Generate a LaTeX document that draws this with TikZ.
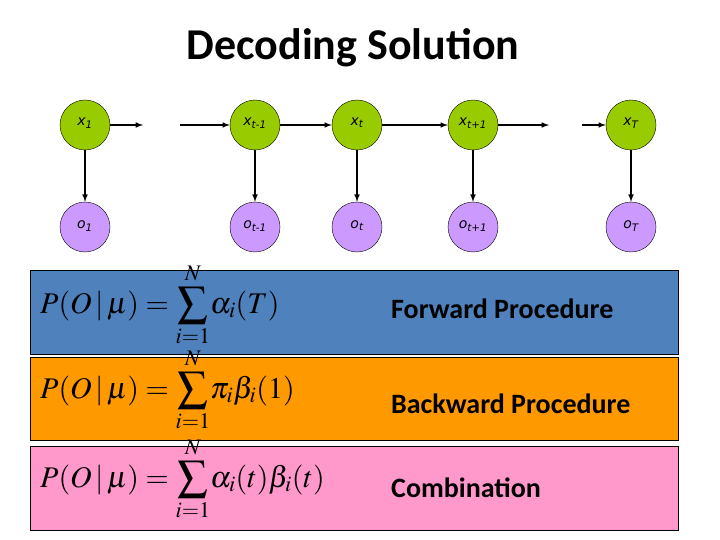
\documentclass[tikz,border=0pt]{standalone}
\usepackage{mathptmx}
\usepackage{fontspec}
\setmainfont{Carlito}
\newfontfamily\nodefont{DejaVu Sans}
\usetikzlibrary{arrows}
\definecolor{hidden fill}{HTML}{99CC00}
\definecolor{obs fill}{HTML}{CC99FF}
\definecolor{fwd}{HTML}{4F81BD}
\definecolor{bwd}{HTML}{FF9900}
\definecolor{comb}{HTML}{FF99CC}
\tikzset{
  hidden/.style={draw, circle, fill=hidden fill, minimum size=50pt, inner sep=0pt, font=\nodefont\itshape\fontsize{14}{16}\selectfont},
  obs/.style={draw, circle, fill=obs fill, minimum size=50pt, inner sep=0pt, font=\nodefont\itshape\fontsize{14}{16}\selectfont},
  edge/.style={-latex, line width=1.5pt},
  band/.style={draw, thin},
  formula/.style={anchor=base west, inner sep=0pt, font=\fontsize{30}{36}\selectfont},
  procname/.style={anchor=base west, inner sep=0pt, font=\bfseries\fontsize{28}{33}\selectfont}
}

\begin{document}
\begin{tikzpicture}[x=1pt, y=-1pt]
    \useasboundingbox (0,0) rectangle (720,540);
    \node[anchor=base, inner sep=0pt, font=\bfseries\fontsize{44}{52}\selectfont] (title) at (353,60) {Decoding Solution};

    % hidden chain
    \node[hidden] (x1) at (85,125) {\raisebox{7pt}{x\textsubscript{1}}};
    \node[hidden] (xtm) at (255,125) {\raisebox{7pt}{x\textsubscript{t-1}}};
    \node[hidden] (xt) at (357,125) {\raisebox{7pt}{x\textsubscript{t}}};
    \node[hidden] (xtp) at (473,125) {\raisebox{7pt}{x\textsubscript{t+1}}};
    \node[hidden] (xT) at (631,125) {\raisebox{7pt}{x\textsubscript{T}}};
    \coordinate (gapa) at (143,125);
    \coordinate (gapb) at (180,125);
    \coordinate (gapc) at (549,125);
    \coordinate (gapd) at (582,125);

    % observations
    \node[obs] (o1) at (85,227) {\raisebox{5pt}{o\textsubscript{1}}};
    \node[obs] (otm) at (255,227) {\raisebox{5pt}{o\textsubscript{t-1}}};
    \node[obs] (ot) at (357,227) {\raisebox{5pt}{o\textsubscript{t}}};
    \node[obs] (otp) at (473,227) {\raisebox{5pt}{o\textsubscript{t+1}}};
    \node[obs] (oT) at (631,227) {\raisebox{5pt}{o\textsubscript{T}}};

    \draw[edge] (x1) -- (gapa);
    \draw[edge] (gapb) -- (xtm);
    \draw[edge] (xtm) -- (xt);
    \draw[edge] (xt) -- (xtp);
    \draw[edge] (xtp) -- (gapc);
    \draw[edge] (gapd) -- (xT);
    \draw[edge] (x1) -- (o1);
    \draw[edge] (xtm) -- (otm);
    \draw[edge] (xt) -- (ot);
    \draw[edge] (xtp) -- (otp);
    \draw[edge] (xT) -- (oT);

    % the three procedures
    \draw[band, fill=fwd] (30,270) rectangle (678,354);
    \draw[band, fill=bwd] (30,357) rectangle (678,440);
    \draw[band, fill=comb] (30,446) rectangle (678,530);
    \node[formula] (ffwd) at (40,313) {$\displaystyle P(O\,|\,\mu)=\sum_{i=1}^{N}\!\alpha_i(T)$};
    \node[formula] (fbwd) at (40,398) {$\displaystyle P(O\,|\,\mu)=\sum_{i=1}^{N}\!\pi_i\beta_i(1)$};
    \node[formula] (fcomb) at (40,487) {$\displaystyle P(O\,|\,\mu)=\sum_{i=1}^{N}\!\alpha_i(t)\beta_i(t)$};
    \node[procname] (lfwd) at (391,318) {Forward Procedure};
    \node[procname] (lbwd) at (391,413) {Backward Procedure};
    \node[procname] (lcomb) at (391,497) {Combination};
\end{tikzpicture}
\end{document}
